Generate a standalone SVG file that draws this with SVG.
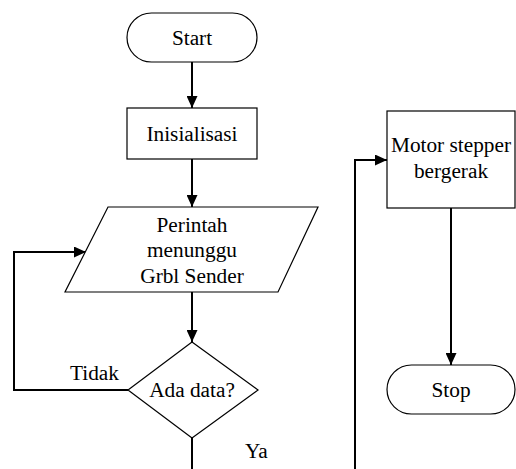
<svg xmlns="http://www.w3.org/2000/svg" width="516" height="469" viewBox="0 0 516 469">
<style>
.shape{fill:#fff;stroke:#000;stroke-width:1.2}
.conn{fill:none;stroke:#000;stroke-width:2}
text{font-family:"Liberation Serif","Times New Roman",serif;font-size:21.3px;fill:#000}
.c{text-anchor:middle}
</style>
<defs>
<marker id="arr" markerUnits="userSpaceOnUse" markerWidth="12" markerHeight="11" refX="12" refY="5.5" orient="auto">
<path d="M0,0 L12,5.5 L0,11 z" fill="#000"/>
</marker>
</defs>
<rect width="516" height="469" fill="#fff"/>
<g id="connectors">
<line class="conn" x1="192" y1="62" x2="192" y2="108" marker-end="url(#arr)"/>
<line class="conn" x1="192" y1="159" x2="192" y2="207" marker-end="url(#arr)"/>
<line class="conn" x1="192" y1="292" x2="192" y2="342" marker-end="url(#arr)"/>
<polyline class="conn" points="128,390 14,390 14,252 86,252" marker-end="url(#arr)"/>
<line class="conn" x1="192" y1="438" x2="192" y2="470"/>
<polyline class="conn" points="355,470 355,160 387,160" marker-end="url(#arr)"/>
<line class="conn" x1="451" y1="208" x2="451" y2="365" marker-end="url(#arr)"/>
</g>
<g id="start">
<rect class="shape" x="127" y="13" width="130" height="49" rx="24.5" ry="24.5"/>
<text class="c" x="192" y="45">Start</text>
</g>
<g id="inisialisasi">
<rect class="shape" x="127" y="108" width="130" height="51"/>
<text class="c" x="192" y="141">Inisialisasi</text>
</g>
<g id="perintah">
<polygon class="shape" points="108,207 318,207 278,292 65,292"/>
<text class="c" x="192" y="232">Perintah</text>
<text class="c" x="192" y="257">menunggu</text>
<text class="c" x="192" y="283">Grbl Sender</text>
</g>
<g id="decision">
<polygon class="shape" points="192,342 258,390 192,438 128,390"/>
<text class="c" x="192" y="397">Ada data?</text>
</g>
<g id="labels">
<text x="70" y="380">Tidak</text>
<text x="245" y="458">Ya</text>
</g>
<g id="motor">
<rect class="shape" x="387" y="111" width="128" height="97"/>
<text class="c" x="451" y="152">Motor stepper</text>
<text class="c" x="451" y="178">bergerak</text>
</g>
<g id="stop">
<rect class="shape" x="387" y="365" width="128" height="49" rx="24.5" ry="24.5"/>
<text class="c" x="451" y="397">Stop</text>
</g>
</svg>
